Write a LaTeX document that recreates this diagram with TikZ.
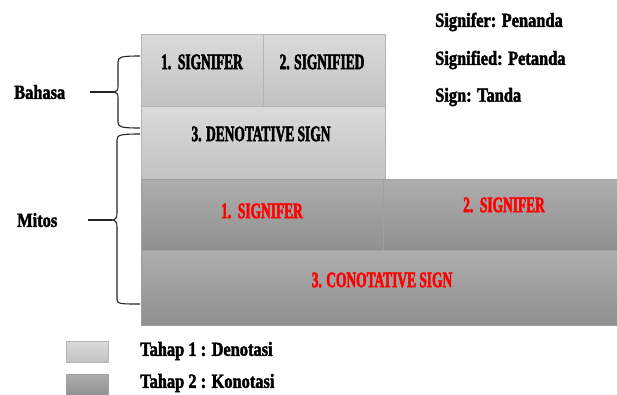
\documentclass[tikz,border=0pt]{standalone}
\usepackage{fontspec}
\newfontfamily\capf[FakeStretch=0.61,FakeBold=2.2]{Liberation Serif}
\newfontfamily\lowf[FakeStretch=0.82,FakeBold=2.0]{Liberation Serif}
\definecolor{lighttop}{HTML}{DADADA}
\definecolor{lightbot}{HTML}{C2C2C2}
\definecolor{darktop}{HTML}{ADADAD}
\definecolor{darkbot}{HTML}{909090}
\definecolor{lightedge}{HTML}{B4B4B4}
\definecolor{darkedge}{HTML}{A0A0A0}
\definecolor{txtred}{HTML}{FF0000}
\tikzset{
  lightbox/.style={draw=lightedge, line width=1pt, top color=lighttop, bottom color=lightbot, rectangle, inner sep=0pt, anchor=north west},
  darkbox/.style={draw=darkedge, line width=1pt, top color=darktop, bottom color=darkbot, rectangle, inner sep=0pt, anchor=north west},
  captxt/.style={font=\capf\bfseries\fontsize{22}{24}\selectfont, inner sep=0pt},
  lowtxt/.style={font=\lowf\bfseries\fontsize{20}{22}\selectfont, inner sep=0pt},
  bracepath/.style={draw=black!85, line width=1.1pt},
}
\begin{document}
\begin{tikzpicture}[x=1pt,y=-1pt]
\useasboundingbox (0,0) rectangle (617,394);
% level 1 boxes
\node[lightbox, minimum width=122pt, minimum height=72pt] (sr1) at (141,34) {};
\node[lightbox, minimum width=122pt, minimum height=72pt] (sd1) at (263,34) {};
\node[lightbox, minimum width=244pt, minimum height=73pt] (dsign) at (141,106) {};
% level 2 boxes
\node[darkbox, minimum width=242pt, minimum height=71pt] (sr2) at (141,179) {};
\node[darkbox, minimum width=236pt, minimum height=71pt] (sd2) at (383,179) {};
\node[darkbox, minimum width=478pt, minimum height=75pt] (csign) at (141,250) {};
% box texts
\node[captxt] (t1) at (202,62) {1.\ \ SIGNIFER};
\node[captxt] (t2) at (322,62) {2. SIGNIFIED};
\node[captxt] (t3) at (261,134) {3. DENOTATIVE SIGN};
\node[captxt, text=txtred] (t4) at (262,211) {1.\ \ SIGNIFER};
\node[captxt, text=txtred] (t5) at (504,205) {2.\ \ SIGNIFER};
\node[captxt, text=txtred] (t6) at (382,280) {3. CONOTATIVE SIGN};
% glossary
\node[lowtxt, anchor=west] (g1) at (435,22) {Signifer: Penanda};
\node[lowtxt, anchor=west] (g2) at (435,60) {Signified: Petanda};
\node[lowtxt, anchor=west] (g3) at (435,97) {Sign: Tanda};
% braces and labels
\node[lowtxt, anchor=west] (bahasa) at (14,92) {Bahasa};
\node[lowtxt, anchor=west] (mitos) at (17,220) {Mitos};
\coordinate (btip) at (114,92);
\coordinate (bstart) at (90,92);
\coordinate (mtip) at (112,220);
\coordinate (mstart) at (88,220);
\draw[bracepath] (140,56) .. controls (121,56) and (118,57) .. (118,62) -- (118,86)
  .. controls (118,90) and (117,92) .. (btip)
  .. controls (117,92) and (118,94) .. (118,98) -- (118,122)
  .. controls (118,127) and (121,128) .. (140,128);
\draw[bracepath] (bstart) -- (btip);
\draw[bracepath] (140,134) .. controls (120,134) and (117,135) .. (117,140) -- (117,213)
  .. controls (117,217) and (116,220) .. (mtip)
  .. controls (116,220) and (117,223) .. (117,227) -- (117,299)
  .. controls (117,304) and (120,304) .. (140,304);
\draw[bracepath] (mstart) -- (mtip);
% legend
\node[lightbox, minimum width=42pt, minimum height=21pt] (leg1) at (66,341) {};
\node[darkbox, minimum width=42pt, minimum height=21pt] (leg2) at (66,374) {};
\node[lowtxt, anchor=west] (l1) at (140,351) {Tahap 1 : Denotasi};
\node[lowtxt, anchor=west] (l2) at (140,383) {Tahap 2 : Konotasi};
\end{tikzpicture}
\end{document}
